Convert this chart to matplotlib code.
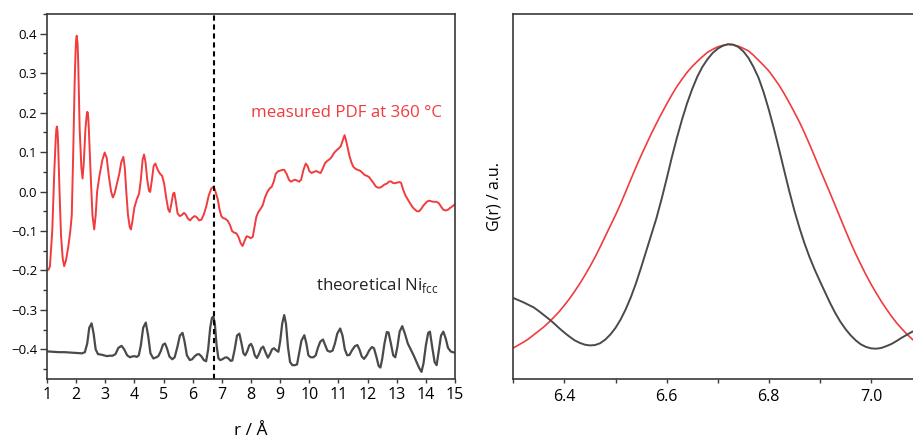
import matplotlib
matplotlib.use("Agg")
import matplotlib.pyplot as plt
from matplotlib.ticker import MultipleLocator

plt.rcParams['font.family'] = ['Open Sans', 'DejaVu Sans']

# measured PDF at 360 °C (left panel, red)
r_meas = [1.00, 1.05, 1.10, 1.18, 1.25, 1.30, 1.32, 1.34, 1.36, 1.38, 1.43, 1.48, 1.54, 1.59, 1.65,
          1.73, 1.80, 1.85, 1.90, 1.95, 1.98, 2.00, 2.02, 2.05, 2.07, 2.12, 2.18, 2.22, 2.26, 2.32,
          2.36, 2.38, 2.40, 2.42, 2.44, 2.50,
          2.56, 2.62, 2.67, 2.72, 2.80, 2.90, 2.98, 3.05, 3.12, 3.20, 3.26, 3.32, 3.40, 3.48, 3.55,
          3.62, 3.67, 3.72, 3.78, 3.84, 3.88, 3.93, 4.00, 4.08, 4.16, 4.22, 4.28, 4.33, 4.38, 4.44,
          4.50, 4.54, 4.60, 4.66, 4.72, 4.80, 4.88, 4.95, 5.02, 5.10, 5.16, 5.21, 5.27, 5.33, 5.37,
          5.42, 5.48, 5.55, 5.62, 5.70, 5.76, 5.83, 5.91, 5.99, 6.07, 6.15, 6.22, 6.30, 6.38, 6.46,
          6.55, 6.64, 6.71, 6.76, 6.81, 6.86, 6.92, 6.98, 7.04, 7.12, 7.20, 7.28, 7.35, 7.42, 7.50,
          7.57, 7.64, 7.71, 7.78, 7.85, 7.92, 7.99, 8.06, 8.12, 8.18, 8.25, 8.32, 8.40, 8.48, 8.56,
          8.64, 8.71, 8.78, 8.85, 8.92, 9.00, 9.08, 9.14, 9.22, 9.30, 9.37, 9.44, 9.51, 9.58, 9.65,
          9.72, 9.80, 9.88, 9.94, 10.00, 10.08, 10.16, 10.25, 10.32, 10.39, 10.46, 10.54, 10.62,
          10.70, 10.77, 10.85, 10.94, 11.02, 11.08, 11.15, 11.21, 11.26, 11.32, 11.38, 11.45, 11.51,
          11.58, 11.66, 11.74, 11.82, 11.90, 11.97, 12.05, 12.12, 12.20, 12.28, 12.36, 12.43, 12.50,
          12.58, 12.66, 12.73, 12.80, 12.87, 12.94, 13.02, 13.10, 13.15, 13.22, 13.30, 13.38, 13.46,
          13.55, 13.63, 13.70, 13.77, 13.84, 13.91, 13.98, 14.05, 14.12, 14.20, 14.28, 14.37, 14.45,
          14.52, 14.60, 14.68, 14.76, 14.84, 14.92, 15.00]
g_meas = [-0.200, -0.198, -0.190, -0.100, 0.050, 0.135, 0.158, 0.165, 0.155, 0.125, 0.000, -0.110,
          -0.170, -0.189, -0.175, -0.140, -0.100, -0.060, 0.100, 0.280, 0.355, 0.385, 0.395, 0.375,
          0.330, 0.160, 0.060, 0.033, 0.070, 0.160, 0.192, 0.202, 0.200, 0.183, 0.150, 0.040,
          -0.060, -0.096, -0.060, 0.000, 0.040, 0.080,
          0.099, 0.085, 0.040, 0.000, -0.015, -0.005, 0.020, 0.045, 0.075, 0.088, 0.060, 0.000,
          -0.060, -0.090, -0.096, -0.075, -0.040, -0.020, -0.005, 0.030, 0.080, 0.094, 0.075,
          0.030, 0.002, -0.001, 0.030, 0.065, 0.071, 0.055, 0.045, 0.040, 0.020, -0.020, -0.045,
          -0.052, -0.030, -0.005, -0.003, -0.025, -0.055, -0.062, -0.060, -0.054, -0.058, -0.068,
          -0.073, -0.066, -0.062, -0.066, -0.073, -0.071, -0.058, -0.039, -0.010, 0.008, 0.012,
          0.005, -0.008, -0.020, -0.045, -0.062, -0.067, -0.069, -0.074, -0.085, -0.100, -0.104,
          -0.106, -0.115, -0.130, -0.138, -0.125, -0.113, -0.115, -0.118, -0.115, -0.090, -0.065,
          -0.052, -0.045, -0.035, -0.015, -0.001, 0.008, 0.012, 0.025, 0.045, 0.051, 0.053, 0.055,
          0.055, 0.045, 0.030, 0.025, 0.028, 0.030, 0.028, 0.025, 0.030, 0.055, 0.071, 0.065, 0.052,
          0.047, 0.050, 0.052, 0.049, 0.047, 0.058, 0.072, 0.078, 0.082, 0.088, 0.098, 0.105, 0.110,
          0.115, 0.130, 0.143, 0.130, 0.110, 0.090, 0.073, 0.063, 0.058, 0.055, 0.053, 0.048, 0.042,
          0.040, 0.037, 0.030, 0.022, 0.013, 0.010, 0.010, 0.013, 0.018, 0.020, 0.025, 0.026, 0.022,
          0.021, 0.023, 0.024, 0.022, 0.005, -0.010, -0.020, -0.030, -0.040, -0.046, -0.050, -0.050,
          -0.044, -0.036, -0.030, -0.025, -0.023, -0.025, -0.026, -0.026, -0.030, -0.038, -0.046,
          -0.048, -0.046, -0.041, -0.037, -0.032]

# theoretical Ni fcc (left panel, grey, offset)
r_theo = [1.00, 1.20, 1.40, 1.60, 1.80, 2.00, 2.20, 2.30, 2.38, 2.45, 2.53, 2.60, 2.67, 2.75, 2.85,
          2.95, 3.05, 3.15, 3.25, 3.35, 3.45, 3.56, 3.65, 3.75, 3.85, 3.92, 4.00, 4.08, 4.15, 4.22,
          4.30, 4.39, 4.47, 4.55, 4.65, 4.75, 4.82, 4.90, 4.98, 5.05, 5.12, 5.20, 5.30, 5.38, 5.47,
          5.56, 5.65, 5.72, 5.80, 5.90, 5.98, 6.06, 6.14, 6.22, 6.30, 6.38, 6.46, 6.53, 6.60, 6.66,
          6.71, 6.76, 6.82, 6.88, 6.94, 7.02, 7.10, 7.17, 7.24, 7.30, 7.36, 7.44, 7.52, 7.60, 7.67,
          7.74, 7.80, 7.87, 7.94, 8.00, 8.06, 8.13, 8.20, 8.27, 8.35, 8.42, 8.50, 8.58, 8.65, 8.72,
          8.79, 8.86, 8.94, 9.00, 9.07, 9.14, 9.20, 9.27, 9.34, 9.42, 9.50, 9.58, 9.65, 9.73, 9.83,
          9.90, 9.97, 10.05, 10.14, 10.22, 10.30, 10.38, 10.47, 10.54, 10.62, 10.71, 10.80, 10.88,
          10.96, 11.06, 11.14, 11.22, 11.30, 11.38, 11.46, 11.56, 11.65, 11.72, 11.80, 11.88, 11.97,
          12.06, 12.15, 12.22, 12.30, 12.38, 12.44, 12.50, 12.58, 12.66, 12.72, 12.80, 12.88, 12.95,
          13.02, 13.10, 13.19, 13.28, 13.38, 13.48, 13.58, 13.68, 13.77, 13.85, 13.92, 14.00, 14.08,
          14.14, 14.22, 14.30, 14.37, 14.44, 14.52, 14.60, 14.68, 14.76, 14.85, 14.92, 15.00]
g_theo = [-0.405, -0.406, -0.407, -0.407, -0.408, -0.409, -0.410, -0.407, -0.385, -0.345, -0.334,
          -0.360, -0.400, -0.412, -0.413, -0.415, -0.417, -0.416, -0.416, -0.412, -0.396, -0.391,
          -0.400, -0.415, -0.420, -0.418, -0.417, -0.419, -0.415, -0.390, -0.345, -0.332, -0.365,
          -0.410, -0.423, -0.420, -0.417, -0.405, -0.388, -0.385, -0.398, -0.418, -0.425, -0.420,
          -0.395, -0.365, -0.358, -0.380, -0.415, -0.427, -0.425, -0.418, -0.413, -0.412, -0.418,
          -0.427, -0.430, -0.400, -0.345, -0.320, -0.317, -0.335, -0.390, -0.422, -0.427, -0.425,
          -0.421, -0.420, -0.424, -0.429, -0.428, -0.400, -0.365, -0.360, -0.383, -0.410, -0.415,
          -0.405, -0.390, -0.386, -0.395, -0.415, -0.422, -0.412, -0.397, -0.393, -0.408, -0.421,
          -0.412, -0.400, -0.397, -0.402, -0.406, -0.380, -0.335, -0.313, -0.335, -0.395, -0.432,
          -0.440, -0.440, -0.438, -0.410, -0.378, -0.364, -0.385, -0.415, -0.420, -0.420, -0.415,
          -0.395, -0.380, -0.375, -0.388, -0.403, -0.406, -0.403, -0.385, -0.360, -0.347, -0.365,
          -0.400, -0.415, -0.414, -0.403, -0.392, -0.389, -0.400, -0.418, -0.424, -0.415, -0.402,
          -0.394, -0.397, -0.418, -0.442, -0.446, -0.425, -0.385, -0.356, -0.357, -0.385, -0.415,
          -0.420, -0.395, -0.355, -0.341, -0.360, -0.385, -0.400, -0.415, -0.432, -0.447, -0.457,
          -0.435, -0.390, -0.358, -0.355, -0.395, -0.432, -0.440, -0.405, -0.365, -0.355, -0.372,
          -0.396, -0.405, -0.407, -0.408]

r_marker = 6.72

# zoom on the 6.72 A peak (right panel, normalised)
r_zoom = [6.30, 6.31, 6.32, 6.33, 6.34, 6.35, 6.36, 6.37, 6.38, 6.39, 6.40, 6.41, 6.42, 6.43, 6.44,
          6.45, 6.46, 6.47, 6.48, 6.49, 6.50, 6.51, 6.52, 6.53, 6.54, 6.55, 6.56, 6.57, 6.58, 6.59,
          6.60, 6.61, 6.62, 6.63, 6.64, 6.65, 6.66, 6.67, 6.68, 6.69, 6.70, 6.71, 6.72, 6.73, 6.74,
          6.75, 6.76, 6.77, 6.78, 6.79, 6.80, 6.81, 6.82, 6.83, 6.84, 6.85, 6.86, 6.87, 6.88, 6.89,
          6.90, 6.91, 6.92, 6.93, 6.94, 6.95, 6.96, 6.97, 6.98, 6.99, 7.00, 7.01, 7.02, 7.03, 7.04,
          7.05, 7.06, 7.07, 7.08, 7.09, 7.10]
g_zoom_meas = [0.085, 0.093, 0.101, 0.110, 0.121, 0.132, 0.143, 0.156, 0.170, 0.185, 0.202, 0.220,
               0.240, 0.261, 0.284, 0.308, 0.334, 0.362, 0.391, 0.420, 0.449, 0.480, 0.513, 0.547,
               0.580, 0.612, 0.642, 0.672, 0.700, 0.727, 0.753, 0.778, 0.801, 0.821, 0.840, 0.856,
               0.870, 0.883, 0.895, 0.903, 0.910, 0.914, 0.917, 0.916, 0.912, 0.906, 0.899, 0.887,
               0.873, 0.859, 0.844, 0.825, 0.805, 0.782, 0.757, 0.731, 0.704, 0.674, 0.642, 0.609,
               0.575, 0.542, 0.509, 0.475, 0.441, 0.407, 0.374, 0.343, 0.314, 0.286, 0.260, 0.236,
               0.213, 0.192, 0.172, 0.154, 0.138, 0.123, 0.110, 0.098, 0.088]
g_zoom_theo = [0.222, 0.216, 0.210, 0.203, 0.196, 0.186, 0.175, 0.164, 0.152, 0.139, 0.127, 0.116,
               0.106, 0.099, 0.094, 0.092, 0.093, 0.098, 0.108, 0.122, 0.140, 0.163, 0.191, 0.224,
               0.262, 0.305, 0.350, 0.395, 0.440, 0.492, 0.548, 0.606, 0.660, 0.710, 0.755, 0.794,
               0.828, 0.855, 0.876, 0.893, 0.905, 0.913, 0.917, 0.916, 0.910, 0.898, 0.880, 0.855,
               0.825, 0.785, 0.738, 0.686, 0.630, 0.572, 0.515, 0.462, 0.414, 0.371, 0.333, 0.299,
               0.268, 0.238, 0.208, 0.181, 0.157, 0.137, 0.120, 0.106, 0.095, 0.088, 0.084, 0.083,
               0.085, 0.090, 0.096, 0.104, 0.113, 0.121, 0.129, 0.135, 0.140]

RED = "#f03c3e"
GREY = "#4a4a4a"
SPINE = "#3a3a3a"

fig = plt.figure(figsize=(9.13, 4.44), dpi=100)

# left: full range
ax = fig.add_axes([47 / 913, 65 / 444, 408 / 913, 365 / 444])
ax.plot(r_meas, g_meas, color=RED, lw=1.4)
ax.plot(r_theo, g_theo, color=GREY, lw=1.6)
ax.axvline(r_marker, color="black", lw=1.5, ls=(0, (2.5, 1.8)))
ax.set_xlim(1, 15)
ax.set_ylim(-0.475, 0.45)
ax.xaxis.set_major_locator(MultipleLocator(1))
ax.yaxis.set_minor_locator(MultipleLocator(0.05))
ax.set_yticks([0.4, 0.3, 0.2, 0.1, 0.0, -0.1, -0.2, -0.3, -0.4])
ax.set_yticklabels(["0.4", "0.3", "0.2", "0.1", "0.0", "\u22120.1", "\u22120.2", "\u22120.3", "\u22120.4"])
ax.tick_params(axis="x", direction="out", length=3, width=1, labelsize=11.5, pad=3, color=SPINE)
ax.tick_params(axis="y", which="major", direction="out", length=5, width=1, labelsize=9.5, pad=2, color=SPINE)
ax.tick_params(axis="y", which="minor", direction="out", length=3, width=1, color=SPINE)
ax.set_xlabel("r / \u00c5", fontsize=12.5, labelpad=14)
for s in ax.spines.values():
    s.set_color(SPINE); s.set_linewidth(1.2)
ax.text(14.55, 0.2, "measured PDF at 360 \u00b0C", color=RED, fontsize=12.2, ha="right", va="center")
ax.text(14.45, -0.237, "theoretical Ni$_{\\mathregular{fcc}}$", color="#222222", fontsize=12.2,
        ha="right", va="center")

# right: zoom on the peak
ax2 = fig.add_axes([513.3 / 913, 65 / 444, 408.8 / 913, 365 / 444])
ax2.plot(r_zoom, g_zoom_meas, color=RED, lw=1.2)
ax2.plot(r_zoom, g_zoom_theo, color=GREY, lw=1.4)
ax2.set_xlim(6.3, 7.1)
ax2.set_ylim(0, 1)
ax2.xaxis.set_minor_locator(MultipleLocator(0.1))
ax2.set_xticks([6.4, 6.6, 6.8, 7.0])
ax2.set_xticklabels(["6.4", "6.6", "6.8", "7.0"])
ax2.tick_params(axis="x", which="major", direction="out", length=3, width=1, labelsize=11.5, pad=4, color=SPINE)
ax2.tick_params(axis="x", which="minor", direction="out", length=3, width=1, color=SPINE)
ax2.set_yticks([])
ax2.set_ylabel("G(r) / a.u.", fontsize=11.5, labelpad=8)
for s in ax2.spines.values():
    s.set_color(SPINE); s.set_linewidth(1.2)

fig.savefig("out.png", dpi=100)
